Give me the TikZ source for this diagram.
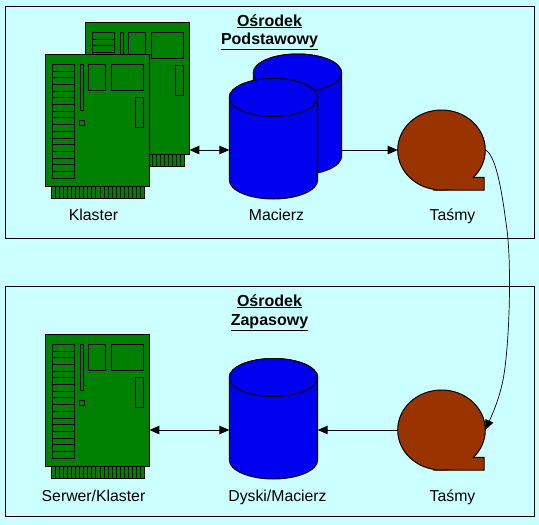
\documentclass[tikz,border=0pt]{standalone}
\usepackage{fontspec}
\setmainfont{Liberation Sans}
\usetikzlibrary{arrows.meta,shapes.geometric}
\definecolor{pagebg}{HTML}{CCFFFF}
\definecolor{boardgreen}{HTML}{008000}
\definecolor{diskblue}{HTML}{0000F0}
\definecolor{tapebrown}{HTML}{993300}
\tikzset{
  ln/.style={draw=black,line width=1pt},
  frameb/.style={ln,line join=miter},
  partb/.style={ln,fill=boardgreen},
  lbl/.style={font=\fontsize{15.8}{18}\selectfont,inner sep=0pt,anchor=base},
  ttl/.style={font=\fontsize{16}{18}\selectfont\bfseries,inner sep=0pt,anchor=base},
  link/.style={draw=black,line width=1pt,-{Triangle[length=10pt,width=8.5pt]}},
  linkb/.style={draw=black,line width=1pt,{Triangle[length=10pt,width=8.5pt]}-{Triangle[length=10pt,width=8.5pt]}},
  thinlink/.style={draw=black,line width=0.7pt,-{Triangle[length=10pt,width=8.5pt]}},
}
% board: top-left corner at (#1,#2), node name #3
\newcommand\myboard[3]{%
  \begin{scope}[shift={(#1,#2)}]
    \path[partb] (6.3,132) rectangle (99.7,144);
    \foreach \i in {1,...,22} {\draw[ln] ({6.3+\i*4.06},132) -- ({6.3+\i*4.06},144);}
    \node[partb,minimum width=104.4pt,minimum height=132pt,inner sep=0pt,outer sep=0pt] (#3) at (52.2,66) {};
    \path[partb] (7.3,10.3) rectangle (29.7,124.3);
    \foreach \i in {1,...,16} {\draw[ln] (7.3,{10.3+\i*6.7}) -- (29.7,{10.3+\i*6.7});}
    \path[partb] (35.3,10.3) rectangle (38.7,56.7);
    \path[partb] (43.3,10.3) rectangle (60.7,36.3);
    \path[partb] (66.3,10.3) rectangle (98.7,36.3);
    \path[partb] (90.3,43.3) rectangle (98.7,73.7);
    \path[partb] (34.3,66.3) rectangle (39.7,71.7);
  \end{scope}}
% disk: left x #1, top ellipse centre y #2, bottom ellipse centre y #3, node #4
\newcommand\mydisk[4]{%
  \path[ln,fill=diskblue] (#1,#2) -- (#1,#3) arc[start angle=180,end angle=360,x radius=44.2pt,y radius=19pt]
    -- ({#1+88.4},#2) arc[start angle=0,end angle=180,x radius=44.2pt,y radius=19pt] -- cycle;
  \path[ln,fill=diskblue] ({#1+44.2},#2) ellipse[x radius=44.2pt,y radius=19pt];
  \node[inner sep=0pt,outer sep=0pt,minimum width=88.4pt,minimum height=120pt] (#4) at ({#1+44.2},{(#2+#3)/2}) {};}
% tape: circle centre (#1,#2), node #3
\newcommand\mytape[3]{%
  \path[ln,fill=tapebrown] ({#1-6},{#2+40}) -- ({#1+42.5},{#2+40}) -- ({#1+42.5},{#2+27.3}) -- ({#1+31},{#2+27.3}) -- ({#1+25},{#2+27.3}) -- cycle;
  \node[ellipse,ln,fill=tapebrown,minimum width=87.6pt,minimum height=80pt,inner sep=0pt,outer sep=0pt] (#3) at (#1,#2) {};
  \path[fill=tapebrown] ({#1-6},{#2+39.4}) -- ({#1+41.9},{#2+39.4}) -- ({#1+41.9},{#2+27.9}) -- ({#1+25},{#2+27.9}) -- ({#1+20},{#2+20}) -- cycle;}
\begin{document}
\begin{tikzpicture}[x=1pt,y=-1pt]
\useasboundingbox[fill=pagebg] (0,0) rectangle (539,525);
\node[frameb,minimum width=529pt,minimum height=232pt,inner sep=0pt] (f1) at (269.5,122) {};
\node[frameb,minimum width=529pt,minimum height=230pt,inner sep=0pt] (f2) at (269.5,401) {};

\myboard{85}{22}{k2}
\myboard{45}{54}{k1}
\mydisk{253.3}{73}{156}{d2}
\mydisk{229.3}{97.5}{180}{d1}
\mytape{441.5}{150}{t1}

\myboard{45}{334}{k3}
\mydisk{229.3}{377.5}{460}{d3}
\mytape{441.5}{430}{t3}

\node[ttl] (a1) at (269.5,26) {\underline{Ośrodek}};
\node[ttl] (a2) at (269.5,44) {\underline{Podstawowy}};
\node[ttl] (b1) at (269.5,306) {\underline{Ośrodek}};
\node[ttl] (b2) at (269.5,325) {\underline{Zapasowy}};
\node[lbl] (l1) at (93.5,220) {Klaster};
\node[lbl] (l2) at (276.5,220) {Macierz};
\node[lbl] (l3) at (452.5,220) {Taśmy};
\node[lbl] (l4) at (93.5,501) {Serwer/Klaster};
\node[lbl] (l5) at (277.5,501) {Dyski/Macierz};
\node[lbl] (l6) at (452.5,501) {Taśmy};

\draw[linkb] (k2.east |- t1.west) -- (d1.west |- t1.west);
\draw[link] (d2.east |- t1.west) -- (t1.west);
\draw[linkb] (k3.east |- t3.west) -- (d3.west |- t3.west);
\draw[link] (t3.west) -- (d3.east |- t3.west);
\draw[thinlink] (t1.east) .. controls (497,155) and (503,200) .. (507,230) .. controls (512,270) and (509,350) .. (503,380) .. controls (499,400) and (492,415) .. (t3.east);
\end{tikzpicture}
\end{document}
